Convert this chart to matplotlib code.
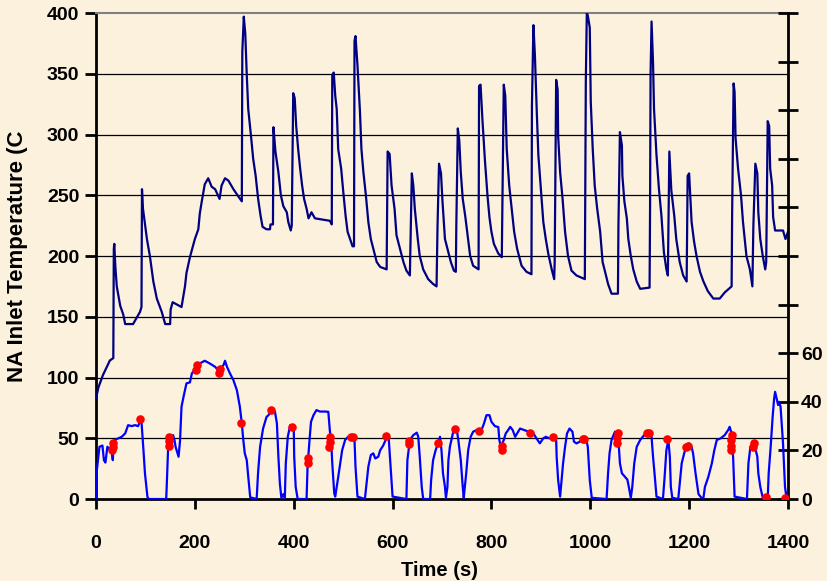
import matplotlib.pyplot as plt

# NA inlet temperature (C), left axis
temp_time = [0, 5, 14, 28, 35, 36, 37, 39, 42, 49, 55, 59, 75, 89, 92, 93, 95, 103, 109, 116,
             123, 133, 140, 150, 151, 155, 173, 180, 183, 190, 200, 207, 210, 214, 220, 227, 234,
             241, 250, 254, 261, 268, 278, 288, 295, 296, 299, 302, 305, 308, 314, 318, 323, 328,
             333, 337, 345, 352, 353, 358, 359, 363, 369, 374, 379, 386, 389, 394, 396, 399, 402,
             405, 409, 413, 417, 421, 426, 430, 436, 443, 473, 477, 478, 481, 484, 487, 490, 496,
             500, 505, 509, 514, 519, 522, 523, 525, 529, 534, 537, 541, 546, 551, 556, 561, 568,
             575, 588, 590, 594, 598, 604, 608, 615, 622, 628, 635, 639, 642, 645, 651, 655, 662,
             672, 682, 689, 691, 694, 698, 701, 706, 713, 718, 724, 728, 729, 732, 735, 738, 742,
             747, 751, 757, 763, 774, 775, 778, 782, 787, 792, 796, 800, 805, 814, 821, 822, 825,
             828, 831, 836, 841, 846, 852, 861, 871, 881, 882, 885, 888, 892, 895, 897, 902, 905,
             910, 915, 922, 927, 928, 931, 934, 935, 939, 944, 949, 955, 962, 972, 989, 991, 993,
             995, 999, 1001, 1005, 1009, 1014, 1020, 1025, 1030, 1036, 1043, 1056, 1057, 1060,
             1064, 1065, 1069, 1074, 1077, 1082, 1087, 1094, 1101, 1120, 1121, 1122, 1124, 1127,
             1129, 1134, 1139, 1144, 1149, 1154, 1157, 1160, 1164, 1170, 1174, 1181, 1188, 1195,
             1197, 1200, 1205, 1210, 1215, 1222, 1229, 1238, 1249, 1262, 1272, 1286, 1287, 1290,
             1292, 1294, 1299, 1305, 1309, 1316, 1323, 1328, 1330, 1334, 1338, 1340, 1344, 1349,
             1354, 1356, 1359, 1362, 1364, 1368, 1370, 1374, 1384, 1390, 1395, 1400]
temp_value = [83, 92, 102, 114, 116, 206, 210, 192, 175, 159, 152, 144, 144, 154, 158, 255, 239,
              214, 200, 179, 165, 154, 144, 144, 156, 162, 158, 175, 186, 199, 214, 222, 235, 245,
              259, 264, 257, 255, 247, 258, 264, 262, 255, 249, 245, 368, 397, 383, 349, 321, 297,
              280, 266, 247, 233, 224, 222, 222, 226, 226, 306, 286, 269, 250, 241, 236, 228, 221,
              225, 334, 330, 307, 288, 272, 258, 247, 239, 231, 236, 231, 229, 226, 349, 351, 332,
              321, 288, 272, 254, 233, 220, 214, 208, 208, 377, 381, 357, 319, 288, 269, 250, 228,
              214, 206, 195, 191, 189, 286, 284, 258, 239, 217, 206, 195, 188, 184, 268, 258, 239,
              214, 200, 189, 181, 177, 175, 225, 276, 268, 245, 214, 203, 195, 188, 187, 225, 305,
              295, 269, 247, 233, 220, 200, 192, 189, 340, 341, 311, 278, 250, 232, 220, 210, 202,
              199, 233, 341, 332, 288, 258, 239, 220, 206, 192, 187, 185, 324, 390, 365, 316, 283,
              272, 245, 228, 214, 202, 189, 181, 195, 345, 337, 299, 269, 247, 220, 200, 188, 184,
              181, 344, 400, 398, 388, 327, 288, 258, 239, 220, 195, 187, 177, 169, 169, 225, 302,
              291, 266, 245, 231, 214, 200, 189, 179, 173, 174, 239, 349, 393, 359, 321, 283, 255,
              233, 203, 189, 184, 286, 254, 233, 214, 195, 184, 179, 266, 268, 228, 212, 200, 187,
              179, 171, 165, 165, 170, 175, 233, 342, 335, 297, 272, 250, 228, 200, 189, 175, 225,
              276, 268, 236, 214, 200, 189, 195, 311, 307, 272, 258, 232, 221, 221, 221, 214, 220]

# vehicle speed, right axis
speed_time = [0, 1, 7, 13, 16, 19, 23, 27, 32, 34, 36, 42, 52, 59, 65, 72, 79, 85, 89, 92, 96, 99,
              104, 106, 142, 143, 146, 151, 156, 159, 161, 167, 170, 173, 177, 183, 190, 194, 204,
              210, 220, 230, 241, 247, 258, 261, 265, 271, 278, 285, 291, 295, 298, 301, 305, 308,
              312, 325, 328, 332, 338, 345, 349, 355, 362, 366, 369, 372, 375, 379, 382, 384, 388,
              393, 400, 401, 404, 408, 426, 428, 432, 435, 440, 446, 453, 463, 470, 473, 476, 478,
              482, 484, 487, 490, 494, 498, 504, 510, 518, 523, 525, 529, 544, 548, 551, 556, 561,
              565, 571, 575, 581, 586, 590, 592, 596, 600, 628, 630, 635, 642, 649, 652, 655, 659,
              662, 676, 678, 682, 687, 692, 696, 699, 702, 706, 708, 711, 713, 716, 722, 726, 730,
              733, 738, 742, 744, 749, 753, 758, 763, 770, 780, 785, 790, 796, 800, 807, 814, 816,
              819, 825, 829, 834, 838, 843, 848, 852, 858, 866, 875, 885, 891, 898, 905, 910, 917,
              925, 931, 932, 935, 939, 942, 945, 949, 953, 958, 964, 967, 972, 979, 986, 992, 995,
              999, 1003, 1033, 1036, 1039, 1043, 1050, 1055, 1057, 1060, 1064, 1070, 1075, 1078,
              1082, 1085, 1089, 1094, 1101, 1109, 1117, 1124, 1127, 1130, 1134, 1147, 1150, 1154,
              1158, 1161, 1163, 1166, 1178, 1181, 1185, 1190, 1195, 1200, 1205, 1208, 1213, 1217,
              1219, 1225, 1229, 1232, 1239, 1246, 1251, 1256, 1264, 1272, 1279, 1282, 1286, 1287,
              1289, 1292, 1317, 1320, 1324, 1330, 1334, 1338, 1340, 1344, 1349, 1359, 1361, 1365,
              1369, 1372, 1374, 1377, 1380, 1382, 1385, 1390, 1394, 1397, 1400]
speed_value = [0, 10.6, 21.5, 22, 16, 15, 21.5, 20.5, 18.8, 16, 24, 24.7, 25.6, 27, 30.4, 30, 30.4,
               30, 31.8, 31.8, 20.1, 10.6, 1, 0, 0, 5, 21.5, 24, 26.3, 24, 21.5, 17.4, 24, 38, 42,
               47.6, 48, 51.7, 54.4, 55.8, 56.9, 55.8, 54.4, 53, 55.1, 56.9, 54.4, 51.7, 48.9, 44.8,
               38, 31.1, 24.3, 18.8, 16, 9.2, 0.7, 0, 11.2, 21.5, 29, 33.8, 34.5, 36.6, 36, 31.1,
               17.4, 6.4, 0.5, 2, 0.5, 14.7, 25.6, 30.4, 30, 17.4, 5, 0, 0, 13.3, 24.3, 31.8, 34.5,
               36.6, 36, 36, 35.9, 28.4, 23, 14.7, 2.3, 1, 5, 9, 14.7, 20.1, 24.3, 25.6, 25.6, 24.3,
               13.3, 1, 0, 7.8, 13.3, 18.1, 18.8, 16.7, 17.4, 20.1, 22, 24.3, 26.3, 25.6, 13.3, 1, 0,
               16, 24.3, 26.3, 27.3, 25.6, 17.4, 5, 0, 0, 7.8, 16, 20, 22.9, 25.6, 20, 10.6, 5, 0.5,
               5, 16, 21.5, 27, 29, 28.5, 24.3, 16, 5, 0.5, 10.6, 20.1, 25.6, 27.7, 28.4, 28.4, 31.1,
               34.5, 34.5, 31.8, 30, 29.6, 24.3, 21.5, 24.3, 27, 28.4, 29.7, 28.4, 25.6, 27, 29, 28.4,
               27.7, 27, 25, 22.9, 25, 25.6, 25, 25.6, 24.3, 17.4, 7.8, 1, 7.8, 14.7, 21.5, 27, 29,
               27.7, 23.6, 22.9, 23.6, 25.6, 24.3, 21.5, 7.8, 0.5, 0, 10.6, 18.8, 24.3, 27.7, 26.5,
               24.3, 14.7, 10.6, 9.2, 8, 5, 0.5, 5, 14.7, 21.5, 24.3, 26.3, 27.7, 25.6, 17.4, 10.6, 1,
               0, 7.8, 20.1, 24.3, 17.4, 5, 0.5, 0, 6.4, 14.7, 18.8, 22, 22.9, 21.5, 18.8, 10.6, 5, 2,
               0.5, 0.5, 5, 9.2, 14.7, 20.1, 24.3, 25, 26.3, 28.4, 29.7, 27, 21.5, 17.4, 1, 0, 14.7,
               21.5, 22.9, 20.8, 17.4, 10.6, 5, 0.5, 0, 10.6, 21.5, 33.8, 41.4, 44.1, 41.4, 38.7, 40,
               38, 22.9, 5, 0.5, 3]

# red markers on the speed trace
mark_time = [33, 34, 35, 89, 147, 148, 148, 202, 204, 248, 250, 293, 355, 396, 428, 428, 472, 473,
             473, 516, 520, 586, 634, 634, 691, 726, 774, 821, 821, 879, 925, 986, 988, 1055, 1055,
             1056, 1115, 1119, 1156, 1193, 1197, 1285, 1285, 1285, 1286, 1329, 1331, 1355, 1395]
mark_speed = [20, 21.5, 23, 32.9, 22, 24, 25.5, 53, 55, 52, 53.5, 31.1, 36.6, 29.5, 14.7, 17, 21.5,
              23.5, 25.5, 25.6, 25.6, 26, 22.5, 24, 22.9, 28.9, 28.1, 20, 21.8, 27.3, 25.6, 24.5,
              24.5, 23, 25, 27, 27.3, 27.3, 24.5, 21.5, 22, 20.1, 22, 24.2, 26.3, 21.5, 22.9, 1, 0.3]

left_ticks = list(range(0, 401, 50))
right_ticks = list(range(0, 201, 20))
right_labels = ["0", "20", "40", "60"] + [""] * 7
x_ticks = list(range(0, 1401, 200))

bg = "#FBF1DD"
tick_font = {"family": "Liberation Sans", "weight": "bold", "size": 14}

fig = plt.figure(figsize=(8.27, 5.81), dpi=100, facecolor=bg)
ax = fig.add_axes([0.1161, 0.1411, 0.8367, 0.8365])
ax.set_facecolor("none")

ax.plot(temp_time, temp_value, color="#000080", lw=1.6, zorder=3)
ax.set_xlim(0, 1400)
ax.set_ylim(0, 400)
ax.set_yticks(left_ticks)
ax.set_xticks(x_ticks)
for y in left_ticks[1:-1]:
    ax.axhline(y, color="black", lw=0.9, zorder=1)

ax.spines["top"].set_color("#808080")
ax.spines["top"].set_linewidth(1.5)
for s in ["left", "bottom"]:
    ax.spines[s].set_linewidth(2)
ax.spines["right"].set_visible(False)

ax.tick_params(axis="y", direction="out", length=8, width=2, pad=4)
ax.tick_params(axis="x", direction="out", length=7, width=2, pad=19)
for lab in ax.get_xticklabels() + ax.get_yticklabels():
    lab.set_fontproperties(tick_font)

ax.set_ylabel("NA Inlet Temperature (C", family="Liberation Sans", weight="bold", size=16)
ax.yaxis.set_label_coords(-0.098, 0.5)
ax.set_xlabel("Time (s)", family="Liberation Sans", weight="bold", size=14.5)
ax.xaxis.set_label_coords(0.497, -0.128)

ax2 = ax.twinx()
ax2.plot(speed_time, speed_value, color="#0000FF", lw=1.6, zorder=3)
ax2.scatter(mark_time, mark_speed, s=38, color="#FF0000", zorder=4, linewidths=0)
ax2.set_ylim(0, 200)
ax2.set_yticks(right_ticks)
ax2.set_yticklabels(right_labels)
ax2.spines["right"].set_linewidth(2)
for s in ["top", "left", "bottom"]:
    ax2.spines[s].set_visible(False)
ax2.tick_params(axis="y", direction="inout", length=15, width=2, pad=2)
for lab in ax2.get_yticklabels():
    lab.set_fontproperties(tick_font)

fig.savefig("out.png", dpi=100, facecolor=bg)
